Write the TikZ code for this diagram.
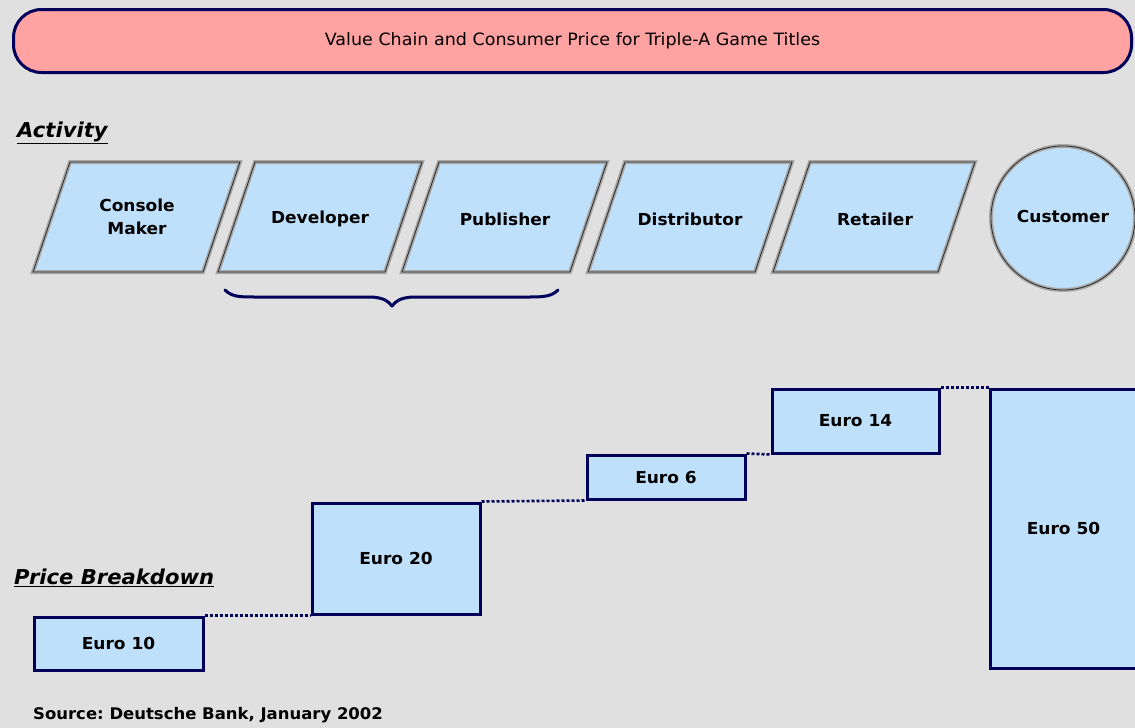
\documentclass[tikz,border=0pt]{standalone}
\usepackage{fontspec}
\setmainfont{DejaVu Sans}
\newfontfamily\comic[FakeStretch=1.03]{DejaVu Sans}
\frenchspacing
\definecolor{bg}{HTML}{E0E0E0}
\definecolor{pinkfill}{HTML}{FFA2A2}
\definecolor{navy}{HTML}{00005A}
\definecolor{lblue}{HTML}{BFE0FA}
\definecolor{bevel}{HTML}{A8A8A8}
\tikzset{
  titlebox/.style={draw=navy, fill=pinkfill, line width=3pt, rounded corners=28pt,
    minimum width=1118pt, minimum height=63pt, inner sep=0pt,
    font=\comic\fontsize{17}{20}\selectfont},
  heading/.style={anchor=west, inner sep=0pt, font=\comic\fontsize{20.5}{24}\selectfont\bfseries\itshape},
  paraout/.style={fill=lblue, draw=bevel, line width=4pt},
  parain/.style={draw=black!85, line width=0.8pt},
  lab/.style={inner sep=0pt, align=center, font=\comic\fontsize{16.5}{23}\selectfont\bfseries},
  pricebox/.style={draw=navy, fill=lblue, line width=3pt, inner sep=0pt,
    font=\comic\fontsize{16.5}{20}\selectfont\bfseries},
  dots/.style={draw=navy, line width=2.6pt, dash pattern=on 3pt off 2pt},
  bracestyle/.style={draw=navy, line width=3pt, line cap=round, line join=round},
  source/.style={anchor=west, inner sep=0pt, font=\comic\fontsize{16}{19}\selectfont\bfseries}
}
\begin{document}
\begin{tikzpicture}[x=1pt,y=-1pt]
\fill[bg] (0,0) rectangle (1135,728);
\useasboundingbox (0,0) rectangle (1135,728);

% title
\node[titlebox] (title) at (572.5,41) {Value Chain and Consumer Price for Triple-A Game Titles};

% headings
\node[heading] (activity) at (17,133) {\underline{Activity}};
\node[heading] (pricehead) at (14,578) {\underline{Price Breakdown}};

% activity parallelograms
\foreach \xl/\xr in {33/203, 218/385, 402/570, 588/755, 773/938}{
  \path[paraout] (\xl+37,162) -- (\xr+37,162) -- (\xr,272) -- (\xl,272) -- cycle;
  \path[parain] (\xl+37,162) -- (\xr+37,162) -- (\xr,272) -- (\xl,272) -- cycle;
}
\node[lab] (console) at (137,217) {Console\\Maker};
\node[lab] (developer) at (320,219) {Developer};
\node[lab] (publisher) at (505,219) {Publisher};
\node[lab] (distributor) at (690,219) {Distributor};
\node[lab] (retailer) at (875,219) {Retailer};

% customer circle
\path[paraout] (1063,218) circle[radius=72];
\path[parain] (1063,218) circle[radius=72];
\node[lab] (customer) at (1063,216) {Customer};

% brace under developer + publisher
\path[bracestyle] (225,290) .. controls (232,297) and (240,297) .. (255,297)
  -- (372,297) .. controls (384,298) and (388,301) .. (392,306)
  .. controls (396,301) and (400,298) .. (412,297)
  -- (530,297) .. controls (545,297) and (552,296) .. (558,290);

% price boxes
\node[pricebox, minimum width=169pt, minimum height=53pt] (e10) at (118.5,643.5) {Euro 10};
\node[pricebox, minimum width=168pt, minimum height=111pt] (e20) at (396,558.5) {Euro 20};
\node[pricebox, minimum width=158pt, minimum height=44pt] (e6) at (666,477) {Euro 6};
\node[pricebox, minimum width=167pt, minimum height=64pt] (e14) at (855.5,421) {Euro 14};
\node[pricebox, minimum width=147pt, minimum height=279pt] (e50) at (1063.5,528.5) {Euro 50};

% dotted connectors
\draw[dots] (e10.north east) -- (e20.south west);
\draw[dots] (e20.north east) -- (e6.south west);
\draw[dots] (e6.north east) -- (e14.south west);
\draw[dots] (e14.north east) -- (e50.north west);

% source
\node[source] (src) at (33,715) {Source: Deutsche Bank, January 2002};
\end{tikzpicture}
\end{document}
